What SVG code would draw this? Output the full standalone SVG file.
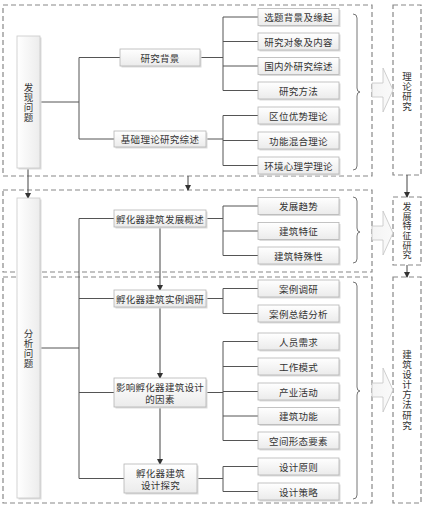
<svg xmlns="http://www.w3.org/2000/svg" width="422" height="506" viewBox="0 0 422 506">
<defs>
<linearGradient id="g" x1="0" y1="0" x2="0" y2="1">
<stop offset="0" stop-color="#ffffff"/>
<stop offset="1" stop-color="#ebebeb"/>
</linearGradient>
<linearGradient id="gh" x1="0" y1="0" x2="1" y2="0">
<stop offset="0" stop-color="#ffffff"/>
<stop offset="1" stop-color="#ececec"/>
</linearGradient>
<linearGradient id="ga" x1="0" y1="0" x2="1" y2="0">
<stop offset="0" stop-color="#f4f4f4"/>
<stop offset="1" stop-color="#fafafa"/>
</linearGradient>
<marker id="ah" markerWidth="6" markerHeight="6" refX="5" refY="3" orient="auto" markerUnits="userSpaceOnUse">
<path d="M0,0 L6,3 L0,6 Z" fill="#333"/>
</marker>
</defs>
<style>
.dash{fill:none;stroke:#888;stroke-width:1.2;stroke-dasharray:5 3}
.box{fill:url(#g);stroke:#b5b5b5;stroke-width:0.8}
.tall{fill:url(#gh);stroke:#c8c8c8;stroke-width:0.8}
.sh{fill:#dcdcdc}
.ln{fill:none;stroke:#555;stroke-width:1}
.ar{fill:none;stroke:#444;stroke-width:1;marker-end:url(#ah)}
.br{fill:none;stroke:#666;stroke-width:0.9}
.big{fill:url(#ga);stroke:#c4c4c4;stroke-width:0.8}
text{font-family:"Noto Sans CJK SC","Noto Sans CJK JP",sans-serif;font-size:9.5px;fill:#333;text-anchor:middle;dominant-baseline:central;letter-spacing:0.3px}
.v{writing-mode:vertical-rl;font-size:9.5px;letter-spacing:0.6px}
.vs{writing-mode:vertical-rl;font-size:9px;letter-spacing:0.6px}
</style>

<g id="frames">
<rect class="dash" x="3" y="5" width="369" height="171"/>
<rect class="dash" x="3" y="190" width="369" height="82"/>
<rect class="dash" x="3" y="277" width="369" height="226"/>
<rect class="dash" x="393" y="5" width="28" height="170"/>
<rect class="dash" x="393" y="197" width="28" height="68"/>
<rect class="dash" x="393" y="277" width="28" height="226"/>
</g>

<g id="connectors">
<path class="ln" d="M40 102H79M79 57.5V139M79 57.5H120M79 139H114"/>
<path class="ln" d="M200 57.5H223M223 17V90.5M223 17H258M223 41.5H258M223 66H258M223 90.5H258"/>
<path class="ln" d="M206 139H223M223 115.5V165.5M223 115.5H258M223 140.5H258M223 165.5H258"/>
<path class="ln" d="M40 348H79M79 218.5V478.5M79 218.5H114M79 298.5H114M79 392.5H114M79 478.5H124"/>
<path class="ln" d="M206 218.5H223M223 206V255.5M223 206H258M223 231H258M223 255.5H258"/>
<path class="ln" d="M206 298.5H223M223 288.5V313.5M223 288.5H258M223 313.5H258"/>
<path class="ln" d="M206 392.5H223M223 341.5V440.5M223 341.5H258M223 366.5H258M223 391.5H258M223 416H258M223 440.5H258"/>
<path class="ln" d="M197 478.5H223M223 466.5V491.5M223 466.5H258M223 491.5H258"/>
<path class="ar" d="M160 227V290"/>
<path class="ar" d="M160 307V378"/>
<path class="ar" d="M160 407V464"/>
<path class="ar" d="M28 168V198"/>
<path class="ar" d="M188 176V190"/>
<path class="ar" d="M407 175V197"/>
<path class="ar" d="M407 265V277"/>
<path class="br" d="M353 14Q357 14 357 18V88Q357 92 360 92Q357 92 357 96V166Q357 170 353 170"/>
<path class="br" d="M353 197Q357 197 357 201V228Q357 232 360 232Q357 232 357 236V259Q357 263 353 263"/>
<path class="br" d="M353 282Q357 282 357 286V387Q357 391 360 391Q357 391 357 395V495Q357 499 353 499"/>
<polygon class="big" points="372,83 383,83 383,68 393,90 383,112 383,97 372,97"/>
<polygon class="big" points="372,226 383,226 383,211 393,233 383,255 383,240 372,240"/>
<polygon class="big" points="372,383 383,383 383,368 393,390 383,412 383,397 372,397"/>
</g>

<g id="n-faxian">
<rect class="sh" x="18.5" y="37.5" width="23" height="132"/>
<rect class="tall" x="17" y="36" width="23" height="132"/>
<text class="v" x="28.5" y="103">发现问题</text>
</g>
<g id="n-fenxi">
<rect class="sh" x="18.5" y="199.5" width="23" height="300"/>
<rect class="tall" x="17" y="198" width="23" height="300"/>
<text class="v" x="28.5" y="349">分析问题</text>
</g>

<g id="n-beijing"><rect class="sh" x="121.5" y="50.5" width="80" height="17"/><rect class="box" x="120" y="49" width="80" height="17"/><text x="160" y="57.5">研究背景</text></g>
<g id="n-jichu"><rect class="sh" x="115.5" y="132.5" width="92" height="16"/><rect class="box" x="114" y="131" width="92" height="16"/><text x="160" y="139">基础理论研究综述</text></g>
<g id="n-gaishu"><rect class="sh" x="115.5" y="211.5" width="92" height="17"/><rect class="box" x="114" y="210" width="92" height="17"/><text x="160" y="218.5">孵化器建筑发展概述</text></g>
<g id="n-diaoyan"><rect class="sh" x="115.5" y="291.5" width="92" height="17"/><rect class="box" x="114" y="290" width="92" height="17"/><text x="160" y="298.5">孵化器建筑实例调研</text></g>
<g id="n-yinsu"><rect class="sh" x="115.5" y="379.5" width="92" height="29"/><rect class="box" x="114" y="378" width="92" height="29"/><text x="160" y="386.5">影响孵化器建筑设计</text><text x="160" y="399">的因素</text></g>
<g id="n-tanjiu"><rect class="sh" x="125.5" y="465.5" width="73" height="29"/><rect class="box" x="124" y="464" width="73" height="29"/><text x="160.5" y="472.5">孵化器建筑</text><text x="160.5" y="485">设计探究</text></g>

<g id="n-c1"><rect class="sh" x="259.5" y="10" width="81" height="17"/><rect class="box" x="258" y="8.5" width="81" height="17"/><text x="298.5" y="17">选题背景及缘起</text></g>
<g id="n-c2"><rect class="sh" x="259.5" y="34.5" width="81" height="17"/><rect class="box" x="258" y="33" width="81" height="17"/><text x="298.5" y="41.5">研究对象及内容</text></g>
<g id="n-c3"><rect class="sh" x="259.5" y="59" width="81" height="17"/><rect class="box" x="258" y="57.5" width="81" height="17"/><text x="298.5" y="66">国内外研究综述</text></g>
<g id="n-c4"><rect class="sh" x="259.5" y="83.5" width="81" height="17"/><rect class="box" x="258" y="82" width="81" height="17"/><text x="298.5" y="90.5">研究方法</text></g>
<g id="n-c5"><rect class="sh" x="259.5" y="108.5" width="81" height="17"/><rect class="box" x="258" y="107" width="81" height="17"/><text x="298.5" y="115.5">区位优势理论</text></g>
<g id="n-c6"><rect class="sh" x="259.5" y="133.5" width="81" height="17"/><rect class="box" x="258" y="132" width="81" height="17"/><text x="298.5" y="140.5">功能混合理论</text></g>
<g id="n-c7"><rect class="sh" x="259.5" y="158.5" width="81" height="17"/><rect class="box" x="258" y="157" width="81" height="17"/><text x="298.5" y="165.5">环境心理学理论</text></g>

<g id="n-d1"><rect class="sh" x="259.5" y="199" width="81" height="17"/><rect class="box" x="258" y="197.5" width="81" height="17"/><text x="298.5" y="206">发展趋势</text></g>
<g id="n-d2"><rect class="sh" x="259.5" y="224" width="81" height="17"/><rect class="box" x="258" y="222.5" width="81" height="17"/><text x="298.5" y="231">建筑特征</text></g>
<g id="n-d3"><rect class="sh" x="259.5" y="248.5" width="81" height="17"/><rect class="box" x="258" y="247" width="81" height="17"/><text x="298.5" y="255.5">建筑特殊性</text></g>

<g id="n-e1"><rect class="sh" x="259.5" y="281.5" width="81" height="17"/><rect class="box" x="258" y="280" width="81" height="17"/><text x="298.5" y="288.5">案例调研</text></g>
<g id="n-e2"><rect class="sh" x="259.5" y="306.5" width="81" height="17"/><rect class="box" x="258" y="305" width="81" height="17"/><text x="298.5" y="313.5">案例总结分析</text></g>

<g id="n-f1"><rect class="sh" x="259.5" y="334.5" width="81" height="17"/><rect class="box" x="258" y="333" width="81" height="17"/><text x="298.5" y="341.5">人员需求</text></g>
<g id="n-f2"><rect class="sh" x="259.5" y="359.5" width="81" height="17"/><rect class="box" x="258" y="358" width="81" height="17"/><text x="298.5" y="366.5">工作模式</text></g>
<g id="n-f3"><rect class="sh" x="259.5" y="384.5" width="81" height="17"/><rect class="box" x="258" y="383" width="81" height="17"/><text x="298.5" y="391.5">产业活动</text></g>
<g id="n-f4"><rect class="sh" x="259.5" y="409" width="81" height="17"/><rect class="box" x="258" y="407.5" width="81" height="17"/><text x="298.5" y="416">建筑功能</text></g>
<g id="n-f5"><rect class="sh" x="259.5" y="433.5" width="81" height="17"/><rect class="box" x="258" y="432" width="81" height="17"/><text x="298.5" y="440.5">空间形态要素</text></g>

<g id="n-g1"><rect class="sh" x="259.5" y="459.5" width="81" height="17"/><rect class="box" x="258" y="458" width="81" height="17"/><text x="298.5" y="466.5">设计原则</text></g>
<g id="n-g2"><rect class="sh" x="259.5" y="484.5" width="81" height="17"/><rect class="box" x="258" y="483" width="81" height="17"/><text x="298.5" y="491.5">设计策略</text></g>

<g id="n-lilun"><text class="v" x="407" y="92">理论研究</text></g>
<g id="n-tezheng"><text class="vs" x="407" y="231">发展特征研究</text></g>
<g id="n-fangfa"><text class="v" x="407" y="390">建筑设计方法研究</text></g>
</svg>
